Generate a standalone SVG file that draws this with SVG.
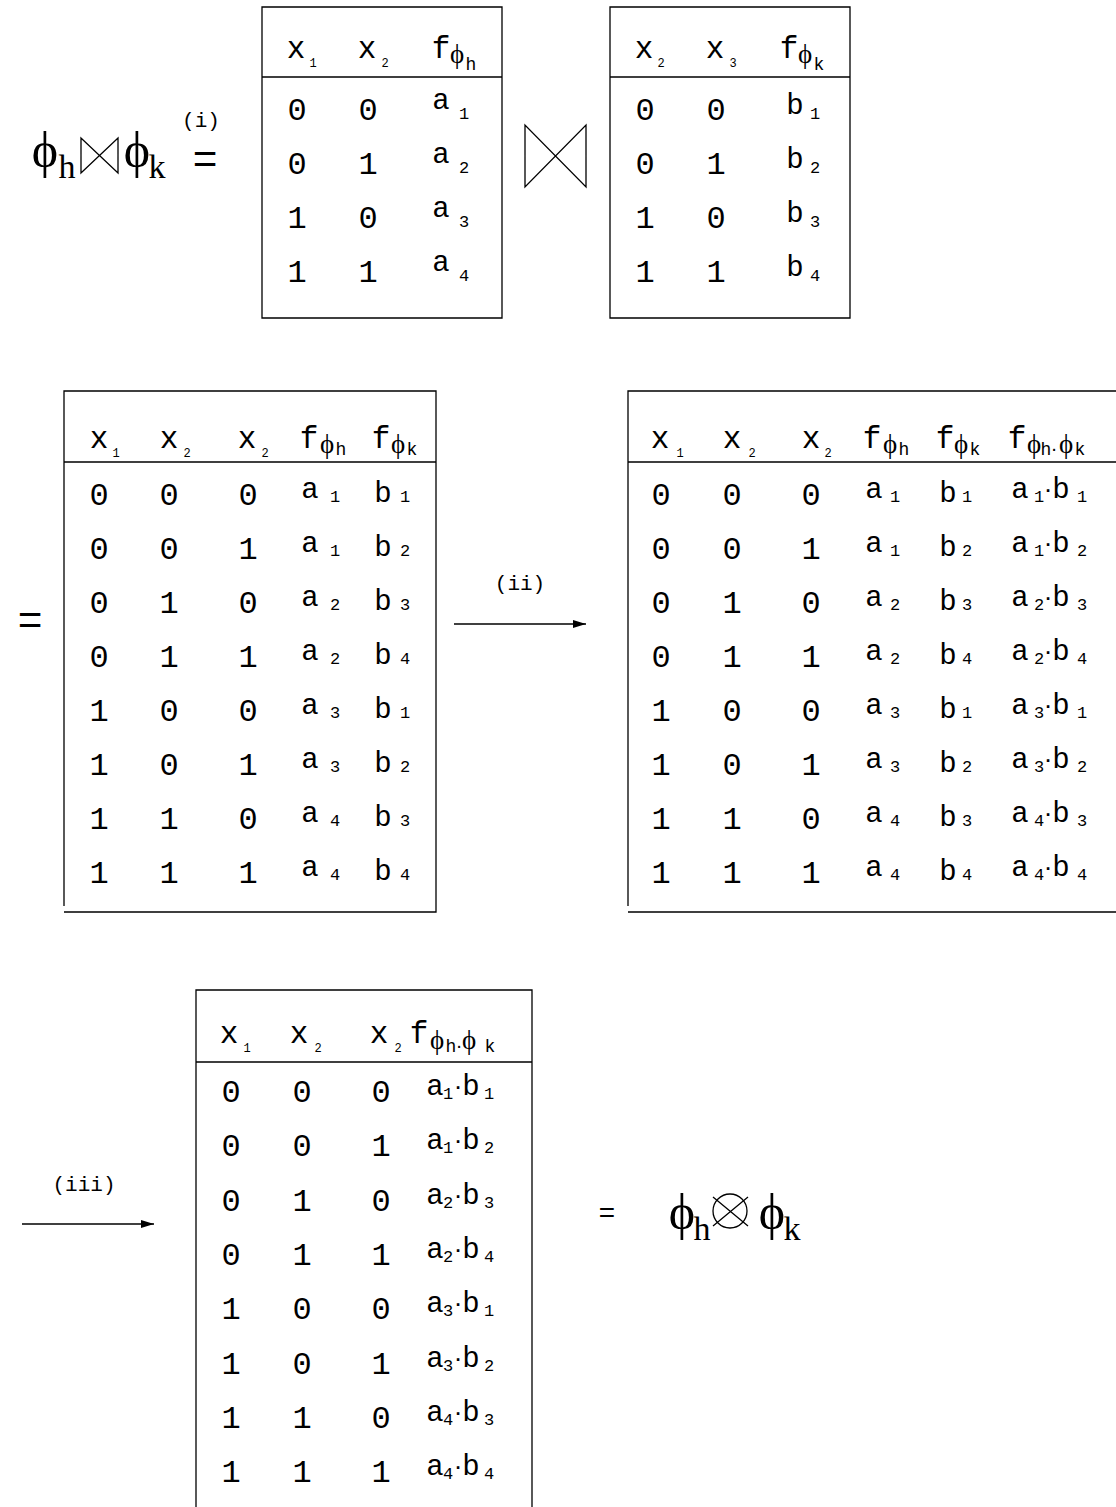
<svg xmlns="http://www.w3.org/2000/svg" width="1116" height="1507" viewBox="0 0 1116 1507">
<defs>
<style>
.m{font-family:"Liberation Mono","DejaVu Sans Mono",monospace;text-anchor:middle;fill:#000}
.dg{font-size:32px}
.lt{font-size:29px}
.hx{font-size:31px}
.sh{font-size:12px}
.sr{font-size:17px}
.sk{font-size:18px}
.ph{font-family:"Liberation Serif","DejaVu Serif",serif;font-size:27px}
.dt{font-family:"Liberation Sans","DejaVu Sans",sans-serif;font-size:26px}
.dh{font-family:"Liberation Sans","DejaVu Sans",sans-serif;font-size:20px}
.big{font-family:"Liberation Serif","DejaVu Serif",serif;text-anchor:middle;fill:#000}
.frame{fill:none;stroke:#000;stroke-width:1.3}
.sym{fill:none;stroke:#000;stroke-width:1.3}
.arr{fill:none;stroke:#000;stroke-width:1.3}
.lbl{font-family:"Liberation Mono","DejaVu Sans Mono",monospace;font-size:21px;text-anchor:middle;fill:#000}
</style>
<marker id="ah" markerWidth="14" markerHeight="10" refX="13" refY="5" orient="auto" markerUnits="userSpaceOnUse">
<path d="M0,1 L13,5 L0,9 Z" fill="#000"/>
</marker>
</defs>
<rect width="1116" height="1507" fill="#fff"/>

<g id="expr-join">
<text class="big" font-size="50" x="45" y="167">ϕ</text>
<text class="big" font-size="34" x="67" y="178">h</text>
<path class="sym" d="M81,138 V173 L118,138 V173 Z"/>
<text class="big" font-size="50" x="137" y="167">ϕ</text>
<text class="big" font-size="34" x="157" y="178">k</text>
<text class="lbl" x="201" y="127" font-size="20">(i)</text>
<text class="m" font-size="42" x="205" y="173">=</text>
</g>

<g id="table-h">
<path class="frame" d="M262,7 H502 V318 H262 Z M262,77 H502"/>
<text class="m hx" y="58"><tspan x="296">x</tspan><tspan class="sh" x="313" y="67">1</tspan></text>
<text class="m hx" y="58"><tspan x="367">x</tspan><tspan class="sh" x="385" y="67">2</tspan></text>
<text class="m hx" y="58"><tspan x="441">f</tspan><tspan class="ph" x="457" y="63">ϕ</tspan><tspan class="sk" x="471" y="70">h</tspan></text>
<text class="m dg" x="297" y="120">0</text><text class="m dg" x="368" y="120">0</text>
<text class="m lt" y="109"><tspan x="441">a</tspan><tspan class="sr" x="464" y="119">1</tspan></text>
<text class="m dg" x="297" y="174">0</text><text class="m dg" x="368" y="174">1</text>
<text class="m lt" y="163"><tspan x="441">a</tspan><tspan class="sr" x="464" y="173">2</tspan></text>
<text class="m dg" x="297" y="228">1</text><text class="m dg" x="368" y="228">0</text>
<text class="m lt" y="217"><tspan x="441">a</tspan><tspan class="sr" x="464" y="227">3</tspan></text>
<text class="m dg" x="297" y="282">1</text><text class="m dg" x="368" y="282">1</text>
<text class="m lt" y="271"><tspan x="441">a</tspan><tspan class="sr" x="464" y="281">4</tspan></text>
</g>

<g id="join-symbol">
<path class="sym" d="M525,125 V187 L586,125 V187 Z"/>
</g>

<g id="table-k">
<path class="frame" d="M610,7 H850 V318 H610 Z M610,77 H850"/>
<text class="m hx" y="58"><tspan x="644">x</tspan><tspan class="sh" x="661" y="67">2</tspan></text>
<text class="m hx" y="58"><tspan x="715">x</tspan><tspan class="sh" x="733" y="67">3</tspan></text>
<text class="m hx" y="58"><tspan x="789">f</tspan><tspan class="ph" x="805" y="63">ϕ</tspan><tspan class="sk" x="819" y="70">k</tspan></text>
<text class="m dg" x="645" y="120">0</text><text class="m dg" x="716" y="120">0</text>
<text class="m lt" y="114"><tspan x="795">b</tspan><tspan class="sr" x="815" y="119">1</tspan></text>
<text class="m dg" x="645" y="174">0</text><text class="m dg" x="716" y="174">1</text>
<text class="m lt" y="168"><tspan x="795">b</tspan><tspan class="sr" x="815" y="173">2</tspan></text>
<text class="m dg" x="645" y="228">1</text><text class="m dg" x="716" y="228">0</text>
<text class="m lt" y="222"><tspan x="795">b</tspan><tspan class="sr" x="815" y="227">3</tspan></text>
<text class="m dg" x="645" y="282">1</text><text class="m dg" x="716" y="282">1</text>
<text class="m lt" y="276"><tspan x="795">b</tspan><tspan class="sr" x="815" y="281">4</tspan></text>
</g>

<g id="eq-left">
<text class="m" font-size="42" x="30" y="634">=</text>
</g>

<g id="table-joined">
<path class="frame" d="M64,906 V391 H436 V912 H64 M64,462 H436"/>
<text class="m hx" y="448"><tspan x="99">x</tspan><tspan class="sh" x="116" y="457">1</tspan></text>
<text class="m hx" y="448"><tspan x="169">x</tspan><tspan class="sh" x="187" y="457">2</tspan></text>
<text class="m hx" y="448"><tspan x="247">x</tspan><tspan class="sh" x="265" y="457">2</tspan></text>
<text class="m hx" y="448"><tspan x="309">f</tspan><tspan class="ph" x="327" y="453">ϕ</tspan><tspan class="sk" x="341" y="455">h</tspan></text>
<text class="m hx" y="448"><tspan x="381">f</tspan><tspan class="ph" x="398" y="453">ϕ</tspan><tspan class="sk" x="412" y="455">k</tspan></text>
<g class="m dg">
<text x="99" y="505">0</text><text x="169" y="505">0</text><text x="248" y="505">0</text>
<text x="99" y="559">0</text><text x="169" y="559">0</text><text x="248" y="559">1</text>
<text x="99" y="613">0</text><text x="169" y="613">1</text><text x="248" y="613">0</text>
<text x="99" y="667">0</text><text x="169" y="667">1</text><text x="248" y="667">1</text>
<text x="99" y="721">1</text><text x="169" y="721">0</text><text x="248" y="721">0</text>
<text x="99" y="775">1</text><text x="169" y="775">0</text><text x="248" y="775">1</text>
<text x="99" y="829">1</text><text x="169" y="829">1</text><text x="248" y="829">0</text>
<text x="99" y="883">1</text><text x="169" y="883">1</text><text x="248" y="883">1</text>
</g>
<text class="m lt" y="498"><tspan x="310">a</tspan><tspan class="sr" x="335" y="502">1</tspan><tspan x="383">b</tspan><tspan class="sr" x="405" y="502">1</tspan></text>
<text class="m lt" y="552"><tspan x="310">a</tspan><tspan class="sr" x="335" y="556">1</tspan><tspan x="383">b</tspan><tspan class="sr" x="405" y="556">2</tspan></text>
<text class="m lt" y="606"><tspan x="310">a</tspan><tspan class="sr" x="335" y="610">2</tspan><tspan x="383">b</tspan><tspan class="sr" x="405" y="610">3</tspan></text>
<text class="m lt" y="660"><tspan x="310">a</tspan><tspan class="sr" x="335" y="664">2</tspan><tspan x="383">b</tspan><tspan class="sr" x="405" y="664">4</tspan></text>
<text class="m lt" y="714"><tspan x="310">a</tspan><tspan class="sr" x="335" y="718">3</tspan><tspan x="383">b</tspan><tspan class="sr" x="405" y="718">1</tspan></text>
<text class="m lt" y="768"><tspan x="310">a</tspan><tspan class="sr" x="335" y="772">3</tspan><tspan x="383">b</tspan><tspan class="sr" x="405" y="772">2</tspan></text>
<text class="m lt" y="822"><tspan x="310">a</tspan><tspan class="sr" x="335" y="826">4</tspan><tspan x="383">b</tspan><tspan class="sr" x="405" y="826">3</tspan></text>
<text class="m lt" y="876"><tspan x="310">a</tspan><tspan class="sr" x="335" y="880">4</tspan><tspan x="383">b</tspan><tspan class="sr" x="405" y="880">4</tspan></text>
</g>

<g id="table-product">
<path class="frame" d="M628,906 V391 H1116 M628,462 H1116 M628,912 H1116"/>
<text class="m hx" y="448"><tspan x="660">x</tspan><tspan class="sh" x="680" y="457">1</tspan></text>
<text class="m hx" y="448"><tspan x="732">x</tspan><tspan class="sh" x="752" y="457">2</tspan></text>
<text class="m hx" y="448"><tspan x="811">x</tspan><tspan class="sh" x="828" y="457">2</tspan></text>
<text class="m hx" y="448"><tspan x="872">f</tspan><tspan class="ph" x="890" y="453">ϕ</tspan><tspan class="sk" x="904" y="455">h</tspan></text>
<text class="m hx" y="448"><tspan x="945">f</tspan><tspan class="ph" x="961" y="453">ϕ</tspan><tspan class="sk" x="975" y="455">k</tspan></text>
<text class="m hx" y="448"><tspan x="1017">f</tspan><tspan class="ph" x="1034" y="453">ϕ</tspan><tspan class="sk" x="1046" y="455">h</tspan><tspan class="dh" x="1054" y="455">·</tspan><tspan class="ph" x="1066" y="453">ϕ</tspan><tspan class="sk" x="1080" y="455">k</tspan></text>
<g class="m dg">
<text x="661" y="505">0</text><text x="732" y="505">0</text><text x="811" y="505">0</text>
<text x="661" y="559">0</text><text x="732" y="559">0</text><text x="811" y="559">1</text>
<text x="661" y="613">0</text><text x="732" y="613">1</text><text x="811" y="613">0</text>
<text x="661" y="667">0</text><text x="732" y="667">1</text><text x="811" y="667">1</text>
<text x="661" y="721">1</text><text x="732" y="721">0</text><text x="811" y="721">0</text>
<text x="661" y="775">1</text><text x="732" y="775">0</text><text x="811" y="775">1</text>
<text x="661" y="829">1</text><text x="732" y="829">1</text><text x="811" y="829">0</text>
<text x="661" y="883">1</text><text x="732" y="883">1</text><text x="811" y="883">1</text>
</g>
<text class="m lt" y="498"><tspan x="874">a</tspan><tspan class="sr" x="895" y="502">1</tspan><tspan x="948">b</tspan><tspan class="sr" x="967" y="502">1</tspan><tspan x="1020" y="498">a</tspan><tspan class="sr" x="1039" y="502">1</tspan><tspan class="dt" x="1048" y="498">·</tspan><tspan x="1061" y="498">b</tspan><tspan class="sr" x="1082" y="502">1</tspan></text>
<text class="m lt" y="552"><tspan x="874">a</tspan><tspan class="sr" x="895" y="556">1</tspan><tspan x="948">b</tspan><tspan class="sr" x="967" y="556">2</tspan><tspan x="1020" y="552">a</tspan><tspan class="sr" x="1039" y="556">1</tspan><tspan class="dt" x="1048" y="552">·</tspan><tspan x="1061" y="552">b</tspan><tspan class="sr" x="1082" y="556">2</tspan></text>
<text class="m lt" y="606"><tspan x="874">a</tspan><tspan class="sr" x="895" y="610">2</tspan><tspan x="948">b</tspan><tspan class="sr" x="967" y="610">3</tspan><tspan x="1020" y="606">a</tspan><tspan class="sr" x="1039" y="610">2</tspan><tspan class="dt" x="1048" y="606">·</tspan><tspan x="1061" y="606">b</tspan><tspan class="sr" x="1082" y="610">3</tspan></text>
<text class="m lt" y="660"><tspan x="874">a</tspan><tspan class="sr" x="895" y="664">2</tspan><tspan x="948">b</tspan><tspan class="sr" x="967" y="664">4</tspan><tspan x="1020" y="660">a</tspan><tspan class="sr" x="1039" y="664">2</tspan><tspan class="dt" x="1048" y="660">·</tspan><tspan x="1061" y="660">b</tspan><tspan class="sr" x="1082" y="664">4</tspan></text>
<text class="m lt" y="714"><tspan x="874">a</tspan><tspan class="sr" x="895" y="718">3</tspan><tspan x="948">b</tspan><tspan class="sr" x="967" y="718">1</tspan><tspan x="1020" y="714">a</tspan><tspan class="sr" x="1039" y="718">3</tspan><tspan class="dt" x="1048" y="714">·</tspan><tspan x="1061" y="714">b</tspan><tspan class="sr" x="1082" y="718">1</tspan></text>
<text class="m lt" y="768"><tspan x="874">a</tspan><tspan class="sr" x="895" y="772">3</tspan><tspan x="948">b</tspan><tspan class="sr" x="967" y="772">2</tspan><tspan x="1020" y="768">a</tspan><tspan class="sr" x="1039" y="772">3</tspan><tspan class="dt" x="1048" y="768">·</tspan><tspan x="1061" y="768">b</tspan><tspan class="sr" x="1082" y="772">2</tspan></text>
<text class="m lt" y="822"><tspan x="874">a</tspan><tspan class="sr" x="895" y="826">4</tspan><tspan x="948">b</tspan><tspan class="sr" x="967" y="826">3</tspan><tspan x="1020" y="822">a</tspan><tspan class="sr" x="1039" y="826">4</tspan><tspan class="dt" x="1048" y="822">·</tspan><tspan x="1061" y="822">b</tspan><tspan class="sr" x="1082" y="826">3</tspan></text>
<text class="m lt" y="876"><tspan x="874">a</tspan><tspan class="sr" x="895" y="880">4</tspan><tspan x="948">b</tspan><tspan class="sr" x="967" y="880">4</tspan><tspan x="1020" y="876">a</tspan><tspan class="sr" x="1039" y="880">4</tspan><tspan class="dt" x="1048" y="876">·</tspan><tspan x="1061" y="876">b</tspan><tspan class="sr" x="1082" y="880">4</tspan></text>
</g>

<g id="table-marginal">
<path class="frame" d="M196,1507 V990 H532 V1507 M196,1062 H532"/>
<text class="m hx" y="1043"><tspan x="229">x</tspan><tspan class="sh" x="247" y="1052">1</tspan></text>
<text class="m hx" y="1043"><tspan x="299">x</tspan><tspan class="sh" x="318" y="1052">2</tspan></text>
<text class="m hx" y="1043"><tspan x="379">x</tspan><tspan class="sh" x="398" y="1052">2</tspan></text>
<text class="m hx" y="1043"><tspan x="419">f</tspan><tspan class="ph" x="437" y="1049">ϕ</tspan><tspan class="sk" x="451" y="1052">h</tspan><tspan class="dh" x="459" y="1052">·</tspan><tspan class="ph" x="469" y="1049">ϕ</tspan><tspan class="sk" x="490" y="1052">k</tspan></text>
<g class="m dg">
<text x="231" y="1102">0</text><text x="302" y="1102">0</text><text x="381" y="1102">0</text>
<text x="231" y="1156">0</text><text x="302" y="1156">0</text><text x="381" y="1156">1</text>
<text x="231" y="1211">0</text><text x="302" y="1211">1</text><text x="381" y="1211">0</text>
<text x="231" y="1265">0</text><text x="302" y="1265">1</text><text x="381" y="1265">1</text>
<text x="231" y="1319">1</text><text x="302" y="1319">0</text><text x="381" y="1319">0</text>
<text x="231" y="1374">1</text><text x="302" y="1374">0</text><text x="381" y="1374">1</text>
<text x="231" y="1428">1</text><text x="302" y="1428">1</text><text x="381" y="1428">0</text>
<text x="231" y="1482">1</text><text x="302" y="1482">1</text><text x="381" y="1482">1</text>
</g>
<text class="m lt" y="1095"><tspan x="435">a</tspan><tspan class="sr" x="448" y="1099">1</tspan><tspan class="dt" x="458" y="1095">·</tspan><tspan x="471" y="1095">b</tspan><tspan class="sr" x="489" y="1099">1</tspan></text>
<text class="m lt" y="1149"><tspan x="435">a</tspan><tspan class="sr" x="448" y="1153">1</tspan><tspan class="dt" x="458" y="1149">·</tspan><tspan x="471" y="1149">b</tspan><tspan class="sr" x="489" y="1153">2</tspan></text>
<text class="m lt" y="1204"><tspan x="435">a</tspan><tspan class="sr" x="448" y="1208">2</tspan><tspan class="dt" x="458" y="1204">·</tspan><tspan x="471" y="1204">b</tspan><tspan class="sr" x="489" y="1208">3</tspan></text>
<text class="m lt" y="1258"><tspan x="435">a</tspan><tspan class="sr" x="448" y="1262">2</tspan><tspan class="dt" x="458" y="1258">·</tspan><tspan x="471" y="1258">b</tspan><tspan class="sr" x="489" y="1262">4</tspan></text>
<text class="m lt" y="1312"><tspan x="435">a</tspan><tspan class="sr" x="448" y="1316">3</tspan><tspan class="dt" x="458" y="1312">·</tspan><tspan x="471" y="1312">b</tspan><tspan class="sr" x="489" y="1316">1</tspan></text>
<text class="m lt" y="1367"><tspan x="435">a</tspan><tspan class="sr" x="448" y="1371">3</tspan><tspan class="dt" x="458" y="1367">·</tspan><tspan x="471" y="1367">b</tspan><tspan class="sr" x="489" y="1371">2</tspan></text>
<text class="m lt" y="1421"><tspan x="435">a</tspan><tspan class="sr" x="448" y="1425">4</tspan><tspan class="dt" x="458" y="1421">·</tspan><tspan x="471" y="1421">b</tspan><tspan class="sr" x="489" y="1425">3</tspan></text>
<text class="m lt" y="1475"><tspan x="435">a</tspan><tspan class="sr" x="448" y="1479">4</tspan><tspan class="dt" x="458" y="1475">·</tspan><tspan x="471" y="1475">b</tspan><tspan class="sr" x="489" y="1479">4</tspan></text>
</g>

<g id="expr-product">
<text class="m" font-size="28" x="607" y="1222">=</text>
<text class="big" font-size="50" x="682" y="1229">ϕ</text>
<text class="big" font-size="34" x="702" y="1240">h</text>
<circle class="sym" cx="730" cy="1211" r="17"/>
<path class="sym" d="M713,1197 L748,1226 M713,1226 L748,1197"/>
<text class="big" font-size="50" x="772" y="1229">ϕ</text>
<text class="big" font-size="34" x="792" y="1240">k</text>
</g>

<g id="connectors">
<line class="arr" x1="454" y1="624" x2="586" y2="624" marker-end="url(#ah)"/>
<text class="lbl" x="520" y="590">(ii)</text>
<line class="arr" x1="22" y1="1224" x2="154" y2="1224" marker-end="url(#ah)"/>
<text class="lbl" x="84" y="1191">(iii)</text>
</g>
</svg>
